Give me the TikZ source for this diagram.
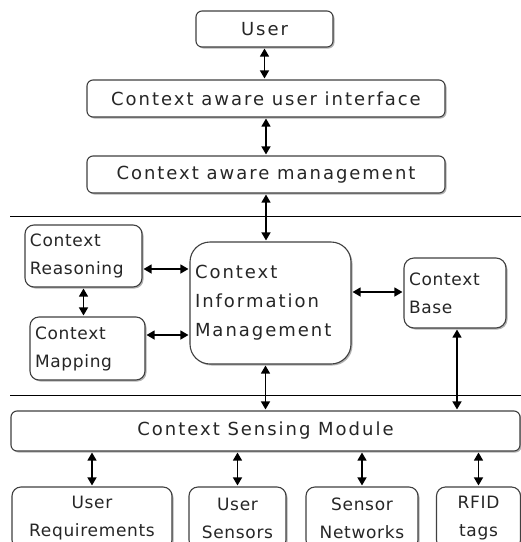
\documentclass[tikz,border=0pt]{standalone}
\usepackage{fontspec}
\setmainfont{DejaVu Sans}
\newfontfamily\bigf[LetterSpace=11]{DejaVu Sans}
\newfontfamily\smallf[LetterSpace=4]{DejaVu Sans}
\usetikzlibrary{arrows.meta,shadows}
\begin{document}
\begin{tikzpicture}[x=1pt,y=-1pt,
  box/.style={draw=black!75, line width=1.1pt, fill=white, rounded corners=6pt,
    drop shadow={shadow xshift=1.5pt, shadow yshift=-1.5pt, fill=black, opacity=0.3},
    inner sep=0pt, text=black!85},
  bigtxt/.style={font=\bigf\fontsize{18}{29}\selectfont},
  smalltxt/.style={font=\smallf\fontsize{17}{28}\selectfont},
  lbox/.style={box, smalltxt, align=left, inner xsep=5pt},
  dbl/.style={{Triangle[length=8pt,width=9pt]}-{Triangle[length=8pt,width=9pt]}, line width=1.3pt, black, shorten <=1pt, shorten >=1pt},
  sep/.style={line width=1pt, black}
]
\useasboundingbox (0,0) rectangle (521,542);
\clip (0,0) rectangle (521,542);
\fill[white] (0,0) rectangle (521,542);

% top stack
\node[box,bigtxt,minimum width=137pt,minimum height=36pt] (user) at (264.5,29) {User};
\node[box,bigtxt,minimum width=358pt,minimum height=37pt] (caui) at (266,98.5) {Context aware user interface};
\node[box,bigtxt,minimum width=358pt,minimum height=37pt] (cam) at (266,174.5) {Context aware management};

% separators
\coordinate (l1a) at (10,216);
\coordinate (l1b) at (521,216);
\coordinate (l2a) at (10,395);
\coordinate (l2b) at (521,395);
\draw[sep] (l1a) -- (l1b);
\draw[sep] (l2a) -- (l2b);

% middle layer
\node[lbox,rounded corners=9pt,minimum width=117pt,minimum height=62pt,text width=107pt] (cr) at (83.5,256) {Context\\Reasoning};
\node[lbox,rounded corners=9pt,minimum width=115pt,minimum height=63pt,text width=105pt] (cm) at (87.5,348.5) {Context\\Mapping};
\node[lbox,bigtxt,rounded corners=20pt,minimum width=161pt,minimum height=122pt,text width=151pt,inner xsep=5pt] (cim) at (270.5,303) {Context\\Information\\Management};
\node[lbox,rounded corners=10pt,minimum width=102pt,minimum height=70pt,text width=92pt] (cb) at (455,293) {Context\\Base};

% sensing
\node[box,bigtxt,minimum width=509pt,minimum height=40pt] (csm) at (265.5,431) {Context Sensing Module};

% bottom row
\node[box,smalltxt,align=center,rounded corners=9pt,minimum width=160pt,minimum height=62pt] (ur) at (92,518) {User\\Requirements};
\node[box,smalltxt,align=center,rounded corners=9pt,minimum width=97pt,minimum height=62pt] (us) at (237.5,518) {User\\Sensors};
\node[box,smalltxt,align=center,rounded corners=9pt,minimum width=112pt,minimum height=62pt] (sn) at (362,518) {Sensor\\Networks};
\node[box,smalltxt,align=center,rounded corners=9pt,minimum width=84pt,minimum height=62pt] (rf) at (478.5,518) {RFID\\tags};

% connectors
\draw[dbl] (user.south) -- (user.south |- caui.north);
\draw[dbl] (caui.south) -- (caui.south |- cam.north);
\draw[dbl] (cam.south) -- (cam.south |- cim.north);
\draw[dbl] (cr.east |- 0,269) -- (cim.west |- 0,269);
\draw[dbl] (cm.east |- 0,335) -- (cim.west |- 0,335);
\draw[dbl] (cr.south) -- (cr.south |- cm.north);
\draw[dbl] (cim.east |- 0,292) -- (cb.west |- 0,292);
\draw[dbl] (cb.south -| 457,0) -- (csm.north -| 457,0);
\draw[dbl] (cim.south -| csm.north) -- (csm.north);
\draw[dbl] (csm.south -| ur.north) -- (ur.north);
\draw[dbl] (csm.south -| us.north) -- (us.north);
\draw[dbl] (csm.south -| sn.north) -- (sn.north);
\draw[dbl] (csm.south -| rf.north) -- (rf.north);
\end{tikzpicture}
\end{document}
